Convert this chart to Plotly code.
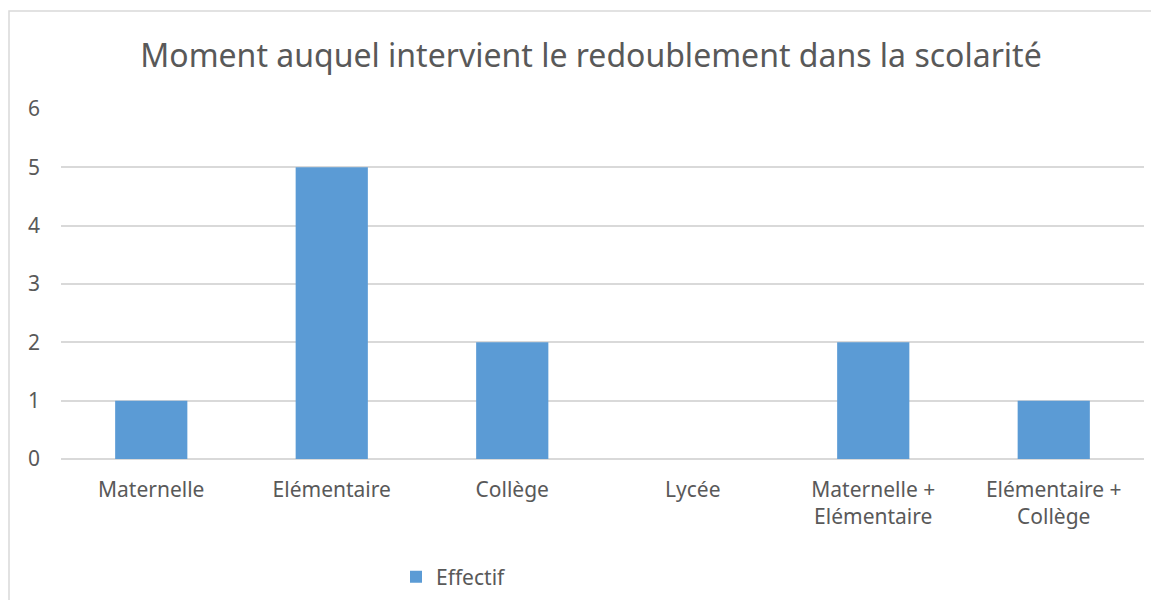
import plotly.graph_objects as go

categories = ["Maternelle", "Elémentaire", "Collège", "Lycée",
              "Maternelle +<br>Elémentaire", "Elémentaire +<br>Collège"]
effectif = [1, 5, 2, 0, 2, 1]
y_ticks = [0, 1, 2, 3, 4, 5, 6]
title_text = "Moment auquel intervient le redoublement dans la scolarité"
series_name = "Effectif"

OFF = 8  # page body margin
W, H = 1159 - OFF, 600 - OFF
L, R, T, B = 61 - OFF, 15, 109 - OFF, 141
pw, ph = W - L - R, H - T - B

def px(x):
    return (x - OFF - L) / pw

def py(y):
    return (H - B - (y - OFF)) / ph

fig = go.Figure()
fig.add_trace(go.Bar(x=categories, y=effectif, name=series_name,
                     marker=dict(color="#5B9BD5", line=dict(width=0))))

font = "Noto Sans, Open Sans, sans-serif"
fig.update_layout(
    width=W, height=H,
    margin=dict(l=L, r=R, t=T, b=B, autoexpand=False),
    paper_bgcolor="white", plot_bgcolor="white",
    bargap=0.6,
    showlegend=True,
    font=dict(family=font, color="#595959", size=21),
    title=dict(text=title_text, xref="paper", x=px(591), xanchor="center",
               y=1 - (56 - OFF) / H, yanchor="middle",
               font=dict(size=32, color="#595959", family=font)),
    legend=dict(orientation="h", x=px(396), xanchor="left",
                y=py(577), yanchor="middle",
                font=dict(size=21, color="#595959"),
                itemwidth=30, bgcolor="rgba(0,0,0,0)"),
    xaxis=dict(showgrid=False, showline=False, ticks="",
               tickfont=dict(size=21, color="#595959"),
               ticklabelstandoff=16, automargin=False),
    yaxis=dict(range=[0, 6], tickvals=y_ticks, showgrid=True,
               gridcolor="#D9D9D9", gridwidth=1.5, zeroline=True,
               zerolinecolor="#D9D9D9", zerolinewidth=1.5,
               showline=False, ticks="",
               tickfont=dict(size=21, color="#595959"),
               ticklabelstandoff=20, automargin=False),
)

fig.add_shape(type="rect", xref="paper", yref="paper",
              x0=px(9), x1=px(1175), y0=py(620), y1=py(11),
              line=dict(color="#D9D9D9", width=1.5), fillcolor="rgba(0,0,0,0)",
              layer="below")

fig.write_html("out.html")
